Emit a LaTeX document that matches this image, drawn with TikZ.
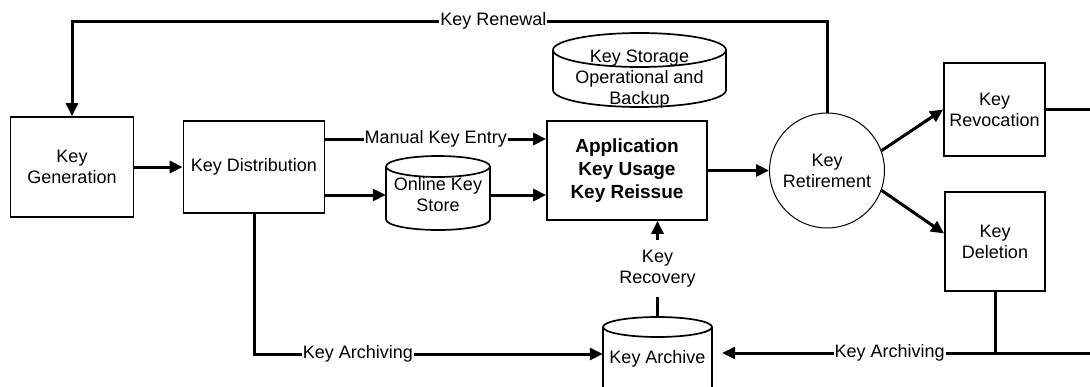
\documentclass[tikz,border=0pt]{standalone}
\usepackage{fontspec}
\setmainfont{Liberation Sans}
\usetikzlibrary{arrows.meta,calc}
\newcommand\txtf{\fontsize{18}{21}\selectfont}
\newcommand\boldf{\fontsize{19}{23}\selectfont\bfseries}
% cylinder outline: left, top, right, bottom, ry (pixel coords, y downwards)
\newcommand\cylout[5]{%
  \pgfmathsetmacro\cylcx{(#1+#3)/2}%
  \pgfmathsetmacro\cylrx{(#3-#1)/2}%
  \draw[cylline] (\cylcx,-#2-#5) ellipse [x radius=\cylrx pt, y radius=#5pt];
  \draw[cylline] (#1,-#2-#5) -- (#1,-#4+#5)
     arc[start angle=180,end angle=360,x radius=\cylrx pt,y radius=#5pt] -- (#3,-#2-#5);
}
\begin{document}
\begin{tikzpicture}[x=1pt,y=1pt,
  box/.style={draw, line width=1.7pt, align=center, inner sep=0pt, font=\txtf},
  cylnode/.style={align=center, inner sep=0pt, font=\txtf},
  cylline/.style={line width=1.7pt},
  roundnode/.style={circle, draw, line width=1pt, align=center, inner sep=0pt, minimum size=115pt, font=\txtf},
  conn/.style={line width=3pt, -{Triangle[length=13pt,width=12pt]}},
  plain/.style={line width=3pt},
  lab/.style={fill=white, inner sep=1pt, font=\txtf, align=center}
]
\useasboundingbox (0,0) rectangle (1090,-386);
\fill[white] (0,0) rectangle (1090,-386);
\clip (0,0) rectangle (1090,-386);

% boxes
\node[box, minimum width=123pt, minimum height=100pt] (kg) at (72,-167) {Key\\Generation};
\node[box, minimum width=141pt, minimum height=92pt] (kd) at (254,-167) {Key Distribution};
\node[box, minimum width=160pt, minimum height=99pt, font=\boldf] (app) at (627,-170.5) {Application\\Key Usage\\Key Reissue};
\node[roundnode] (ret) at (827,-170.5) {Key\\Retirement};
\node[box, minimum width=101pt, minimum height=93pt] (rev) at (994.5,-109.5) {Key\\Revocation};
\node[box, minimum width=100pt, minimum height=99pt] (kdel) at (995,-241.5) {Key\\Deletion};

% cylinders
\cylout{386}{156}{490}{230}{10.5}
\node[cylnode, minimum width=104pt, minimum height=74pt] (oks) at (438,-195) {Online Key\\Store};
\cylout{553}{33}{726}{107}{17}
\node[cylnode, minimum width=173pt, minimum height=74pt] (kst) at (639.5,-79) {Key Storage\\Operational and\\Backup};
\cylout{603}{317}{712}{400}{10}
\node[cylnode, minimum width=109pt, minimum height=83pt] (arch) at (657.5,-358.5) {Key Archive};

% connectors
\coordinate (offr) at (1100,-353);
\draw[conn] (kg.east) -- (kd.west);
\draw[conn] (kd.east |- 0,-139) -- node[lab]{Manual Key Entry} (app.west |- 0,-139);
\draw[conn] (kd.east |- oks.west) -- (oks.west);
\draw[conn] (oks.east) -- (app.west |- oks.east);
\draw[conn] (app.east) -- (ret.west);
\draw[conn] (ret.20) -- (rev.west);
\draw[conn] (ret.-20) -- ([yshift=8pt]kdel.west);
\draw[conn] (ret.north) -- (ret.north |- 0,-21)
   -- node[lab, pos=0.442]{Key Renewal} (kg.north |- 0,-21) -- (kg.north);
\draw[conn] (kd.south) -- (kd.south |- 0,-354)
   -- node[lab, pos=0.298]{Key Archiving} (arch.west |- 0,-354);
\draw[conn] (rev.east) -- (rev.east -| offr) -- (offr)
   -- node[lab, pos=0.557]{Key Archiving} ([xshift=10pt]arch.east |- offr);
\draw[plain] (kdel.south) -- (kdel.south |- offr);
\draw[conn] (arch.north) -- node[lab, inner ysep=10pt]{Key\\Recovery} (arch.north |- app.south);
\end{tikzpicture}
\end{document}
